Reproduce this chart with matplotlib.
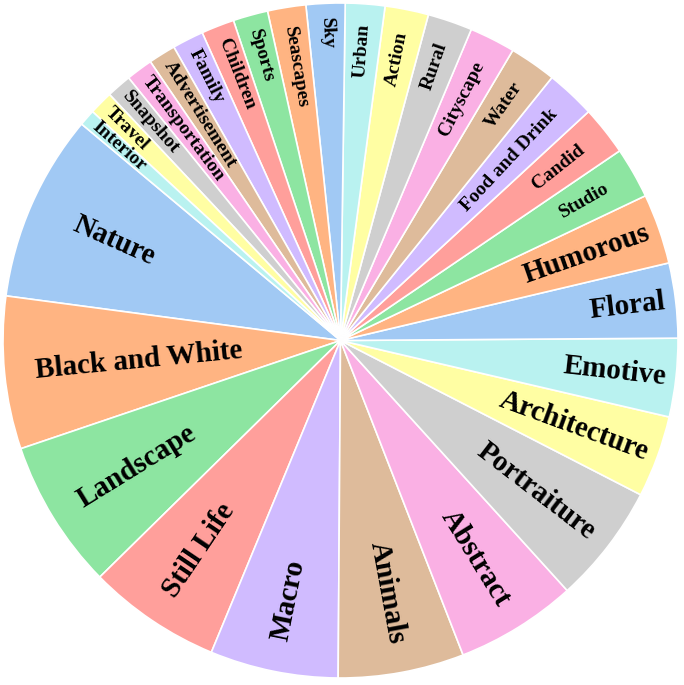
import numpy as np
import matplotlib
matplotlib.use("Agg")
import matplotlib.pyplot as plt
import seaborn as sns

# categories, biggest first (counter-clockwise from Nature)
categories = ["Nature", "Black and White", "Landscape", "Still Life", "Macro",
              "Animals", "Abstract", "Portraiture", "Architecture", "Emotive",
              "Floral", "Humorous", "Studio", "Candid", "Food and Drink", "Water",
              "Cityscape", "Rural", "Action", "Urban", "Sky", "Seascapes",
              "Sports", "Children", "Family", "Advertisement", "Transportation",
              "Snapshot", "Travel", "Interior"]
values = [32.3, 26.3, 25.8, 23.0, 22.1, 21.7, 20.9, 20.6, 14.1, 13.5,
          12.9, 12.1, 8.8, 8.5, 8.5, 8.1, 7.9, 7.7, 7.5, 6.8,
          6.7, 6.6, 6.0, 5.7, 5.4, 4.7, 4.6, 4.3, 4.1, 2.8]

colors = sns.color_palette("pastel", 10)
colors = [colors[i % 10] for i in range(len(values))]

fig = plt.figure(figsize=(6.84, 6.85), dpi=100)
ax = fig.add_axes([0, 0, 1, 1])

wedges, _ = ax.pie(values, colors=colors, startangle=140.1, counterclock=True,
                   wedgeprops=dict(edgecolor="white", linewidth=1.2))

R = 337.5  # pie radius in pixels
ax.set_xlim(-340.5 / R, (684 - 340.5) / R)
ax.set_ylim((340.5 - 685) / R, 340.5 / R)
ax.set_aspect("auto")
ax.axis("off")

total = sum(values)
texts = []
for w, lab, v in zip(wedges, categories, values):
    big = v / total > 0.03
    t = ax.text(0, 0, lab, fontsize=21 if big else 14, fontweight="bold",
                family=["Liberation Serif", "DejaVu Serif"],
                ha="center", va="center", rotation_mode="anchor")
    texts.append((t, w, big))

fig.canvas.draw()
renderer = fig.canvas.get_renderer()
for t, w, big in texts:
    bb = t.get_window_extent(renderer)
    a = bb.width / bb.height
    mid = (w.theta1 + w.theta2) / 2
    half = np.radians(w.theta2 - w.theta1) / 2
    m = np.radians(mid)
    # radial placement: centre of the biggest box that fits in the wedge
    q = a + 1 / (2 * np.tan(half))
    b = 1 / (np.sqrt(q * q + 0.5) + q)
    rc = np.cos(b) - a * b
    edge = 0.97
    if big:
        rc += 0.06
        if np.cos(m) < 0:
            edge = 0.91
    rc = min(rc, edge - bb.width / 2 / R)
    rot = mid % 360
    if 90 < rot < 270:
        rot -= 180
    t.set_position((rc * np.cos(m), rc * np.sin(m)))
    t.set_rotation(rot)

fig.savefig("out.png", dpi=100)
